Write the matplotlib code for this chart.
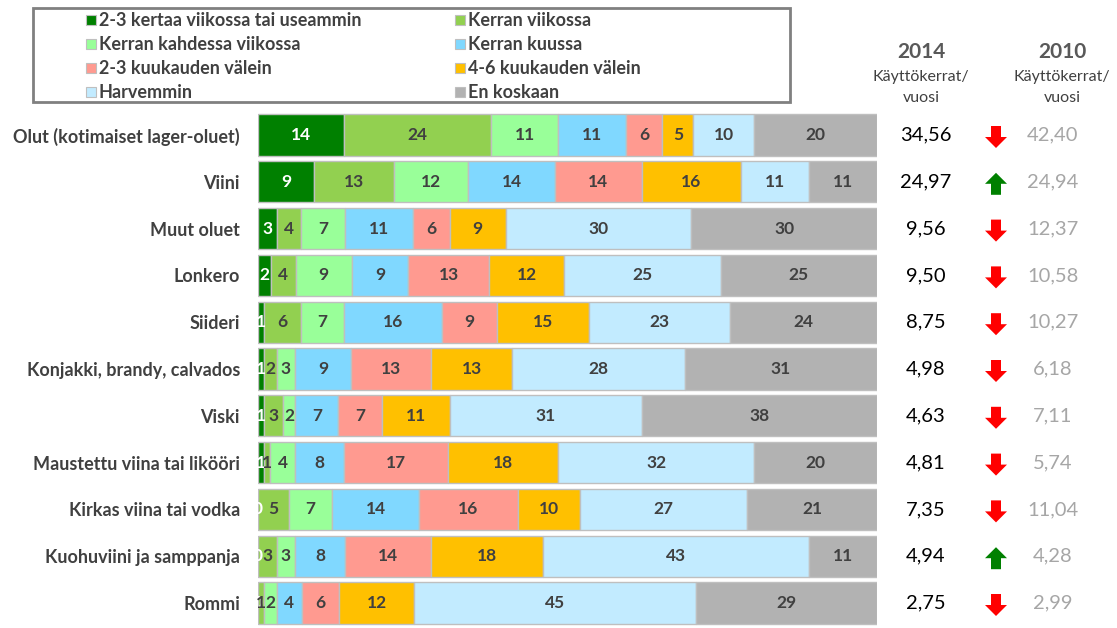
import matplotlib
matplotlib.use("Agg")
import matplotlib.pyplot as plt
import numpy as np
from matplotlib.patches import Rectangle, Polygon

plt.rcParams['font.family'] = ['Lato', 'DejaVu Sans']

# data
categories = ["Olut (kotimaiset lager-oluet)", "Viini", "Muut oluet", "Lonkero",
              "Siideri", "Konjakki, brandy, calvados", "Viski",
              "Maustettu viina tai likööri", "Kirkas viina tai vodka",
              "Kuohuviini ja samppanja", "Rommi"]
series_names = ["2-3 kertaa viikossa tai useammin", "Kerran viikossa",
                "Kerran kahdessa viikossa", "Kerran kuussa",
                "2-3 kuukauden välein", "4-6 kuukauden välein",
                "Harvemmin", "En koskaan"]
s1 = [14, 9, 3, 2, 1, 1, 1, 1, 0, 0, 0]
s2 = [24, 13, 4, 4, 6, 2, 3, 1, 5, 3, 1]
s3 = [11, 12, 7, 9, 7, 3, 2, 4, 7, 3, 2]
s4 = [11, 14, 11, 9, 16, 9, 7, 8, 14, 8, 4]
s5 = [6, 14, 6, 13, 9, 13, 7, 17, 16, 14, 6]
s6 = [5, 16, 9, 12, 15, 13, 11, 18, 10, 18, 12]
s7 = [10, 11, 30, 25, 23, 28, 31, 32, 27, 43, 45]
s8 = [20, 11, 30, 25, 24, 31, 38, 20, 21, 11, 29]
kerrat_2014 = [34.56, 24.97, 9.56, 9.50, 8.75, 4.98, 4.63, 4.81, 7.35, 4.94, 2.75]
kerrat_2010 = [42.40, 24.94, 12.37, 10.58, 10.27, 6.18, 7.11, 5.74, 11.04, 4.28, 2.99]

colors = ['#008000', '#92D050', '#99FF99', '#80D8FF',
          '#FF9A90', '#FFC000', '#C2EBFF', '#B2B2B2']
dark = '#404040'

W, H = 1117, 628
fig = plt.figure(figsize=(W / 100, H / 100), dpi=100)


def fx(px):
    return px / W


def fy(py):
    return 1 - py / H


row_top, row_bot = 111.6, 626.4
ax = fig.add_axes([fx(258), fy(row_bot), fx(877 - 258), (row_bot - row_top) / H])

data = np.array([s1, s2, s3, s4, s5, s6, s7, s8], dtype=float)
pct = data / data.sum(axis=0) * 100
y = np.arange(len(categories))
left = np.zeros(len(categories))
for i in range(len(series_names)):
    ax.barh(y, pct[i], left=left, height=0.88, color=colors[i],
            edgecolor='#BFBFBF', linewidth=1)
    for j in range(len(categories)):
        ax.text(left[j] + pct[i][j] / 2, y[j], str(int(data[i][j])),
                ha='center', va='center', fontsize=12.5, fontweight='bold',
                color='white' if i == 0 else dark)
    left += pct[i]

ax.set_xlim(0, 100)
ax.set_ylim(len(categories) - 0.5, -0.5)
ax.set_yticks(y)
ax.set_yticklabels(categories, fontsize=13, fontweight='bold', color=dark)
ax.tick_params(axis='y', length=0, pad=13)
ax.set_xticks([])
for sp in ax.spines.values():
    sp.set_visible(False)

# right side: values and arrows
ax2 = fig.add_axes([fx(877), fy(row_bot), fx(W - 877), (row_bot - row_top) / H], sharey=ax)
ax2.set_xlim(877, W)
ax2.axis('off')
unit = (row_bot - row_top) / len(categories)
hs = 11 / unit
for j in range(len(categories)):
    ax2.text(926, y[j], f"{kerrat_2014[j]:.2f}".replace('.', ','), ha='center', va='center',
             fontsize=14.5, color='black')
    ax2.text(1053, y[j], f"{kerrat_2010[j]:.2f}".replace('.', ','), ha='center', va='center',
             fontsize=14.5, color='#A6A6A6')
    cx, cy = 996, y[j] + 2 / unit
    d = -1 if kerrat_2014[j] > kerrat_2010[j] else 1
    col = '#008000' if d < 0 else '#FF0000'
    pts = [(cx - 5, cy - d * hs), (cx + 5, cy - d * hs), (cx + 5, cy),
           (cx + 11, cy), (cx, cy + d * hs), (cx - 11, cy), (cx - 5, cy)]
    ax2.add_patch(Polygon(pts, closed=True, color=col, lw=0))

for xc, yr in [(921, '2014'), (1062, '2010')]:
    fig.text(fx(xc), fy(52), yr, ha='center', va='center', fontsize=15,
             fontweight='bold', color='#595959')
    fig.text(fx(xc), fy(77), 'Käyttökerrat/', ha='center', va='center',
             fontsize=11.5, color=dark)
    fig.text(fx(xc), fy(98), 'vuosi', ha='center', va='center',
             fontsize=11.5, color=dark)

# legend box
fig.add_artist(Rectangle((fx(33), fy(102)), fx(790 - 33), (102 - 8) / H,
                         transform=fig.transFigure, fill=False,
                         edgecolor='#808080', lw=2))
for k, name in enumerate(series_names):
    mx = 86 if k % 2 == 0 else 455
    my = 20 + 24 * (k // 2)
    fig.add_artist(Rectangle((fx(mx), fy(my + 5)), fx(10), 10 / H,
                             transform=fig.transFigure, facecolor=colors[k],
                             edgecolor='#BFBFBF', lw=0.8))
    fig.text(fx(mx + 13), fy(my), name, ha='left', va='center', fontsize=13,
             fontweight='bold', color=dark)

fig.savefig('out.png', dpi=100)
